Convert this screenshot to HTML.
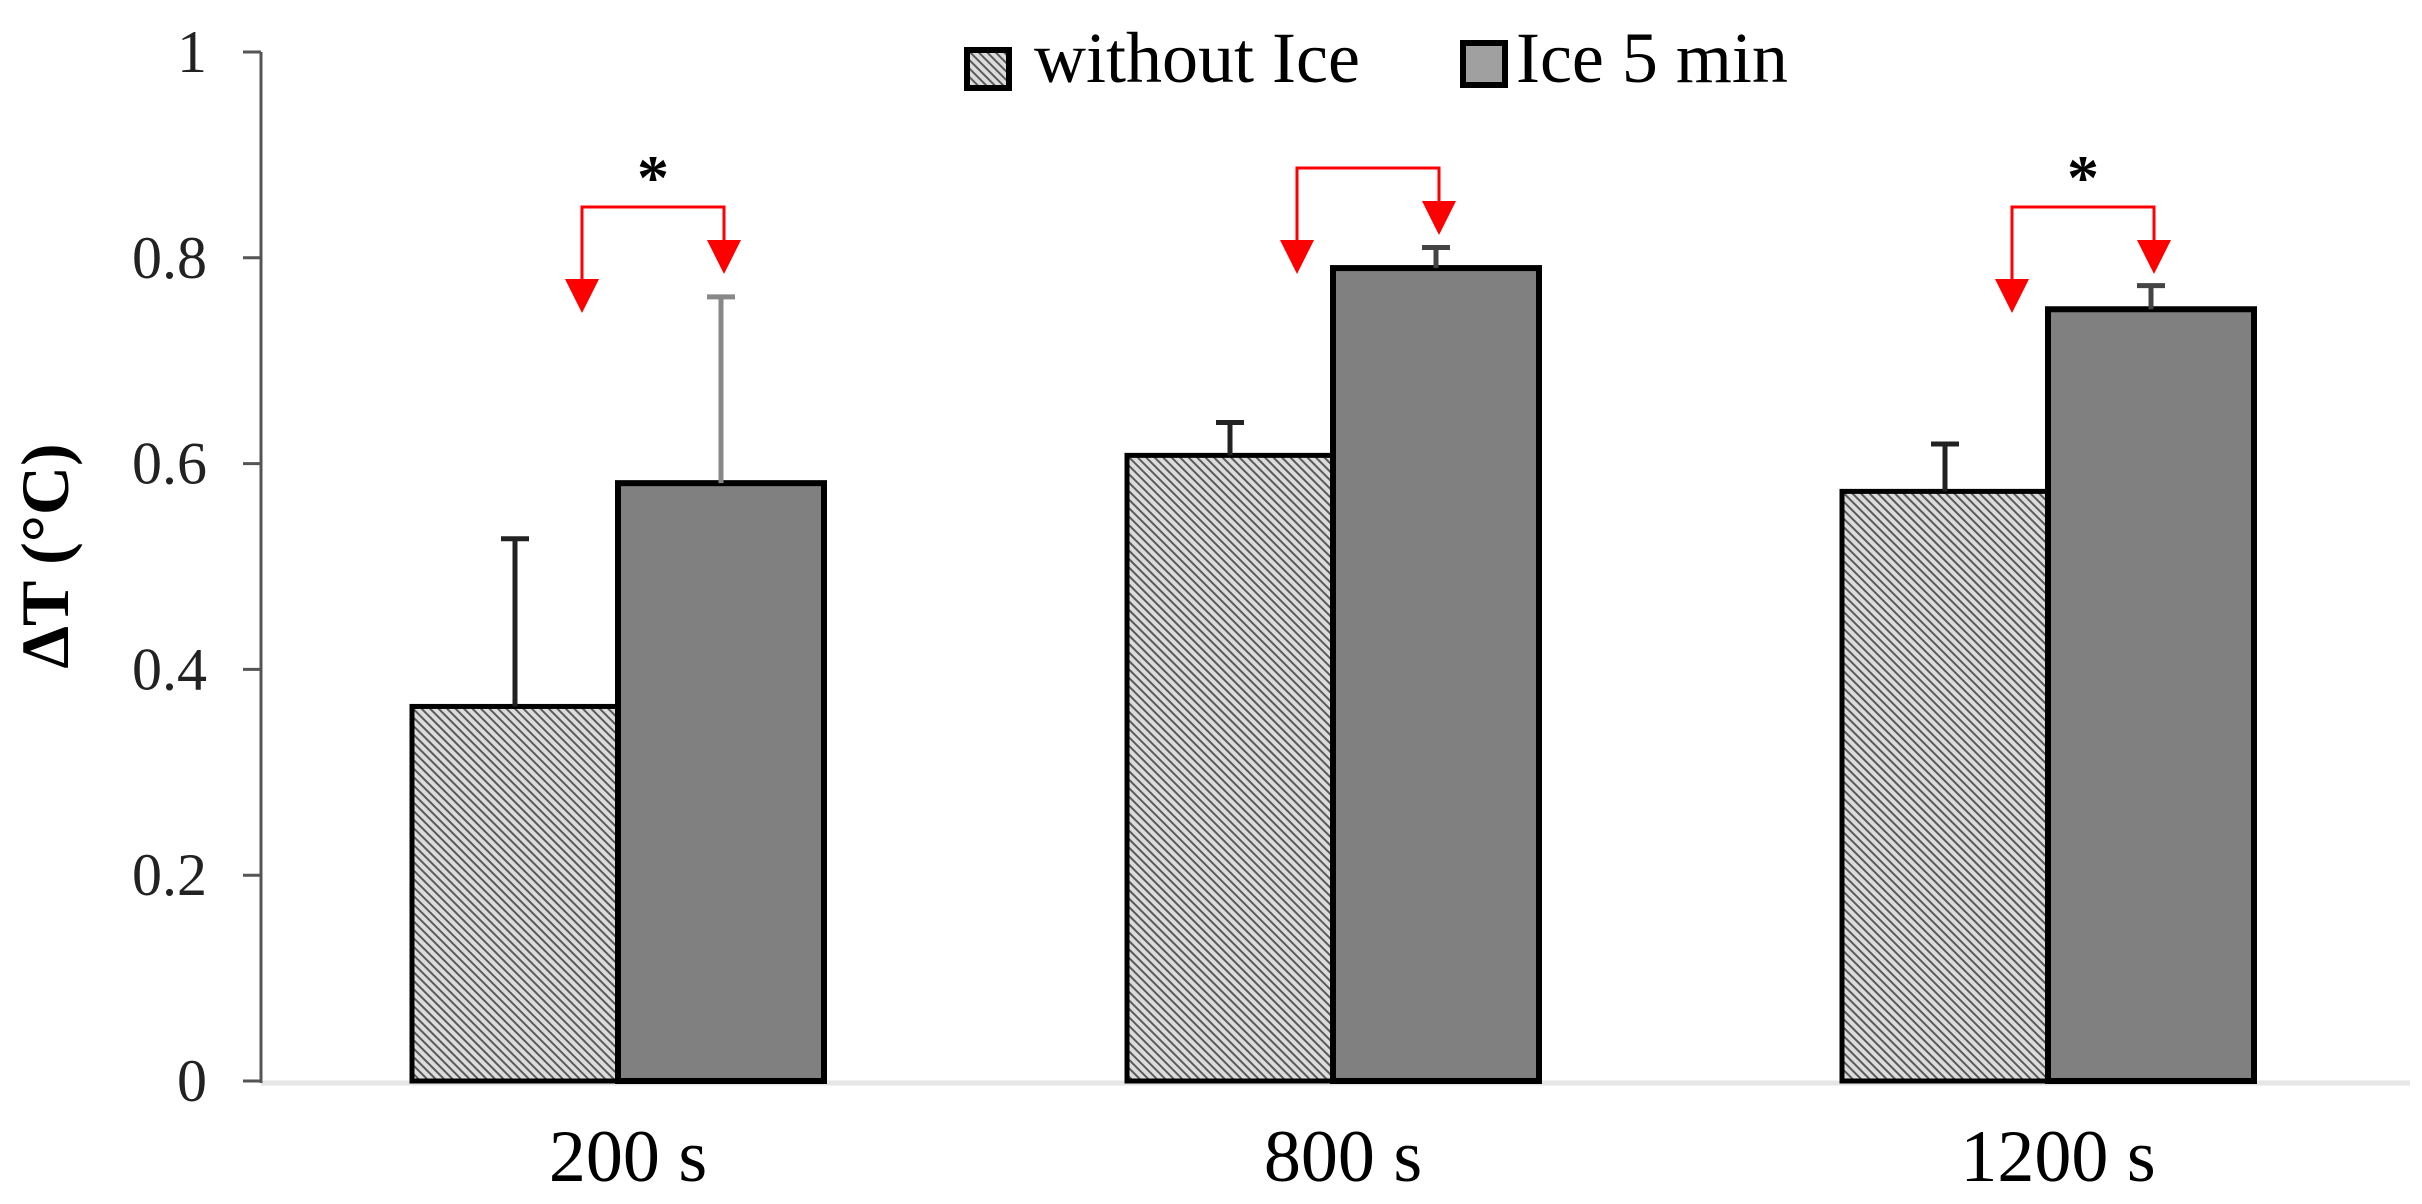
<!DOCTYPE html>
<html><head><meta charset="utf-8"><style>
html,body{margin:0;padding:0;background:#fff}
svg{display:block}
text{font-family:"Liberation Serif",serif}
</style></head><body>
<svg id="chart" width="2422" height="1204" viewBox="0 0 2422 1204" xmlns="http://www.w3.org/2000/svg">
<defs>
<pattern id="hatch" patternUnits="userSpaceOnUse" width="6" height="6" patternTransform="rotate(-45)">
<rect width="6" height="6" fill="#dcdcdc"/>
<rect width="2" height="6" fill="#5a5a5a"/>
</pattern>
</defs>
<g id="axes"></g>
<g id="bars"></g>
<g id="annot"></g>
<g>
<rect x="967" y="50" width="42" height="38" fill="url(#hatch)" stroke="#000" stroke-width="6"/>
<text x="1034" y="82" font-size="72">without Ice</text>
<rect x="1463" y="43" width="42" height="42" fill="#a0a0a0" stroke="#000" stroke-width="6"/>
<text x="1516" y="82" font-size="72">Ice 5 min</text>
</g>
<text transform="translate(68,556) rotate(-90)" text-anchor="middle" font-size="68" font-weight="bold">ΔT (°C)</text>
</svg>
<script>
const categories = ["200 s", "800 s", "1200 s"];
const withoutIce = [0.364, 0.608, 0.573];
const withoutIceErr = [0.163, 0.032, 0.046];
const ice5 = [0.581, 0.790, 0.750];
const ice5Err = [0.181, 0.020, 0.023];
const yTicks = [0, 0.2, 0.4, 0.6, 0.8, 1];
const yTickLabels = ["0", "0.2", "0.4", "0.6", "0.8", "1"];
const significant = [true, false, true];

const NS = "http://www.w3.org/2000/svg";
const X0 = 261, Y0 = 1081, YH = 1029;
const y = v => Y0 - v * YH;
const groupCenter = i => 618 + i * 715;
const BW = 206;
function mk(tag, attrs, parent) {
  const e = document.createElementNS(NS, tag);
  for (const k in attrs) e.setAttribute(k, attrs[k]);
  parent.appendChild(e);
  return e;
}
const axes = document.getElementById('axes');
const bars = document.getElementById('bars');
const annot = document.getElementById('annot');

let bl = mk('line', {x1: X0, y1: y(0) + 2, x2: 2410, y2: y(0) + 2, stroke: '#e6e6e6', 'stroke-width': 5}, axes);


let ax = mk('line', {x1: X0, y1: y(1), x2: X0, y2: y(0) + 2, stroke: '#555', 'stroke-width': 3}, axes);


yTicks.forEach((t, i) => {
  const tk = mk('line', {x1: X0 - 18, y1: y(t), x2: X0, y2: y(t), stroke: '#555', 'stroke-width': 3}, axes);
  
  
  const tl = mk('text', {x: 207, y: y(t) + 20, 'text-anchor': 'end', 'font-size': 60, fill: '#222'}, axes);
  tl.textContent = yTickLabels[i];
  
  
});

categories.forEach((c, i) => {
  const cx = groupCenter(i);
  const hx = cx - BW, sx = cx;
  const h = mk('rect', {x: hx, y: y(withoutIce[i]), width: BW, height: y(0) - y(withoutIce[i]), fill: 'url(#hatch)', stroke: '#000', 'stroke-width': 5}, bars);
  
  
  const s = mk('rect', {x: sx, y: y(ice5[i]), width: BW, height: y(0) - y(ice5[i]), fill: '#808080', stroke: '#000', 'stroke-width': 6}, bars);
  
  
  [[hx + BW / 2, withoutIce[i], withoutIceErr[i], '#222'], [sx + BW / 2, ice5[i], ice5Err[i], i === 0 ? '#888' : '#444']].forEach(([ex, v, e, col]) => {
    const g = mk('path', {d: `M${ex},${y(v)} V${y(v + e)} M${ex - 14},${y(v + e)} H${ex + 14}`, stroke: col, 'stroke-width': 5, fill: 'none'}, bars);
    
    
  });
  const lab = mk('text', {x: cx + 10, y: 1181, 'text-anchor': 'middle', 'font-size': 74}, axes);
  lab.textContent = c;
  
  

  const lx = cx - 36, rx = cx + 106;
  const bTop = i === 1 ? 168 : 207;
  const rTip = bTop + 67, lTip = bTop + 106;
  const br = mk('path', {d: `M${lx},${lTip - 30} V${bTop} H${rx} V${rTip - 30}`, stroke: '#f00', 'stroke-width': 3, fill: 'none'}, annot);
  
  
  [[lx, lTip], [rx, rTip]].forEach(([ax2, tip]) => {
    const a = mk('polygon', {points: `${ax2 - 17},${tip - 34} ${ax2 + 17},${tip - 34} ${ax2},${tip}`, fill: '#f00'}, annot);
    
    
  });
  if (significant[i]) {
    const st = mk('text', {x: (lx + rx) / 2, y: bTop - 8, 'text-anchor': 'middle', 'font-size': 64, 'font-weight': 'bold'}, annot);
    st.textContent = '*';
    
    
  }
});
</script>
</body></html>
